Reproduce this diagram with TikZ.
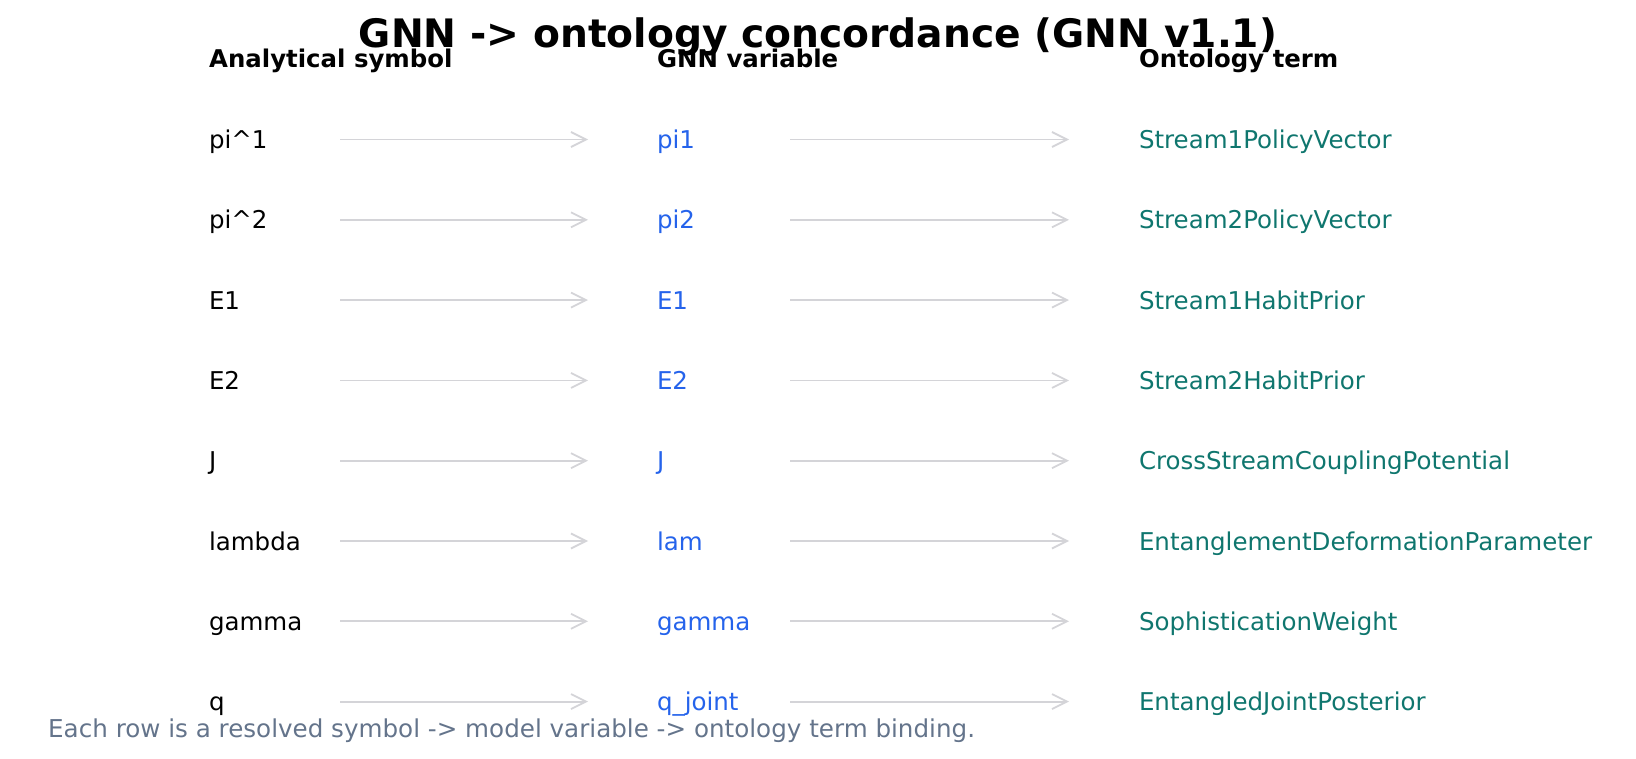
\documentclass[tikz,border=0pt]{standalone}
\usepackage{fontspec}
\setmainfont{DejaVu Sans}
\usetikzlibrary{arrows.meta}
\definecolor{varblue}{HTML}{2563EB}
\definecolor{ontteal}{HTML}{0F766E}
\definecolor{arrgray}{HTML}{D4D4D8}
\definecolor{notegray}{HTML}{64748B}
\tikzset{
  x=1pt, y=-1pt,
  lbl/.style={anchor=base west, inner sep=0pt, outer sep=0pt, font=\fontsize{24.5}{28}\selectfont},
  hdr/.style={anchor=base west, inner sep=0pt, font=\fontsize{24.4}{28}\selectfont\bfseries},
  sym/.style={lbl, text=black},
  gvar/.style={lbl, text=varblue},
  ont/.style={lbl, text=ontteal},
  conn/.style={draw=arrgray, line width=1.8pt, -{Straight Barb[length=15pt,width=15pt,line width=1.8pt]}},
}
\begin{document}
\begin{tikzpicture}
\useasboundingbox (0,0) rectangle (1636,759);
\node[anchor=base, inner sep=0pt, font=\fontsize{39.2}{44}\selectfont\bfseries] (title) at (818,48) {GNN -> ontology concordance (GNN v1.1)};
\node[hdr] (h1) at (209,68) {Analytical symbol};
\node[hdr] (h2) at (657,68) {GNN variable};
\node[hdr] (h3) at (1139,68) {Ontology term};
\foreach \i/\s/\v/\o in {0/pi\^{}1/pi1/Stream1PolicyVector, 1/pi\^{}2/pi2/Stream2PolicyVector, 2/E1/E1/Stream1HabitPrior, 3/E2/E2/Stream2HabitPrior, 4/J/J/CrossStreamCouplingPotential, 5/lambda/lam/EntanglementDeformationParameter, 6/gamma/gamma/SophisticationWeight, 7/q/q\_joint/EntangledJointPosterior}{
  \pgfmathsetmacro{\yb}{148.5+80.3*\i}
  \pgfmathsetmacro{\ya}{139.5+80.3*\i}
  \node[sym] (s\i) at (209,\yb) {\s};
  \node[gvar] (v\i) at (657,\yb) {\v};
  \node[ont] (o\i) at (1139,\yb) {\o};
  \coordinate (a\i) at (340,\ya);
  \coordinate (b\i) at (588,\ya);
  \coordinate (c\i) at (790,\ya);
  \coordinate (d\i) at (1069,\ya);
  \draw[conn] (a\i) -- (b\i);
  \draw[conn] (c\i) -- (d\i);
}
\node[anchor=base west, inner sep=0pt, text=notegray, font=\fontsize{24.6}{28}\selectfont] (note) at (48,737) {Each row is a resolved symbol -> model variable -> ontology term binding.};
\end{tikzpicture}
\end{document}
